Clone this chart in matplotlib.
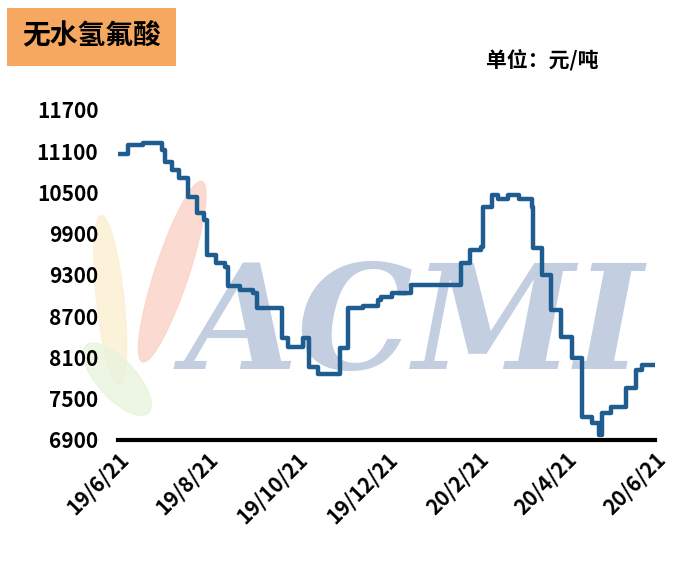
import matplotlib
matplotlib.use("Agg")
import matplotlib.pyplot as plt
import pandas as pd
from matplotlib.patches import Ellipse

plt.rcParams['font.family'] = ['Noto Sans CJK SC', 'DejaVu Sans']

dates = ["2019-06-21","2019-06-28","2019-07-08","2019-07-21","2019-07-23","2019-07-28","2019-08-02",
         "2019-08-08","2019-08-14","2019-08-19","2019-08-21","2019-08-27","2019-09-02","2019-09-04",
         "2019-09-12","2019-09-21","2019-09-24","2019-10-11","2019-10-15","2019-10-25","2019-10-29",
         "2019-11-04","2019-11-19","2019-11-25","2019-12-05","2019-12-15","2019-12-17","2019-12-25",
         "2020-01-07","2020-02-10","2020-02-16","2020-02-23","2020-02-25","2020-03-02","2020-03-06",
         "2020-03-13","2020-03-20","2020-03-29","2020-03-30","2020-04-05","2020-04-11","2020-04-18",
         "2020-04-25","2020-05-02","2020-05-09","2020-05-14","2020-05-16","2020-05-22","2020-06-01",
         "2020-06-08","2020-06-12","2020-06-21"]
values = [11050,11190,11220,11120,10940,10830,10710,10430,10200,10100,9590,9470,9420,9130,
          9080,9040,8820,8380,8250,8380,7960,7850,8240,8820,8850,8940,8970,9040,9150,9470,
          9660,9710,10290,10460,10400,10460,10400,10290,9690,9300,8790,8400,8090,7230,7150,
          6970,7290,7370,7660,7920,7990,7990]
yticks = [6900,7500,8100,8700,9300,9900,10500,11100,11700]
xtick_dates = ["2019-06-21","2019-08-21","2019-10-21","2019-12-21","2020-02-21","2020-04-21","2020-06-21"]
xtick_labels = ["19/6/21","19/8/21","19/10/21","19/12/21","20/2/21","20/4/21","20/6/21"]

x = pd.to_datetime(dates)
fig = plt.figure(figsize=(6.89,5.66), dpi=100)
ax = fig.add_axes([0.171,0.223,0.78,0.583])
ax.set_facecolor("none")

# watermark (inside axes, beneath line)
ax.text(0.60,0.42,"ACMI",fontsize=105,family="DejaVu Serif",style="italic",fontweight="bold",
        color="#c3cfe0",ha="center",va="center",zorder=0,transform=fig.transFigure)
for (cx,cy,w,h,ang,c) in [(0.25,0.52,0.05,0.33,-15,"#fbd3c6"),(0.16,0.47,0.04,0.30,5,"#fbefd0"),
                          (0.17,0.33,0.06,0.15,35,"#e9f3dc")]:
    ax.add_patch(Ellipse((cx,cy),w,h,angle=ang,color=c,alpha=0.8,transform=fig.transFigure,zorder=0,clip_on=False))

ax.step(x, values, where="post", color="#1f5c8f", lw=3.2, zorder=3)
ax.set_ylim(6900,11700)
ax.set_xlim(pd.Timestamp("2019-06-21"), pd.Timestamp("2020-06-21"))
ax.set_yticks(yticks)
ax.set_yticklabels([str(v) for v in yticks], fontsize=15, fontweight="bold")
ax.set_xticks(pd.to_datetime(xtick_dates))
ax.set_xticklabels(xtick_labels, rotation=45, ha="right", rotation_mode="anchor", fontsize=15, fontweight="bold")
ax.tick_params(axis="y", length=0, pad=14)
ax.tick_params(axis="x", length=0, pad=6)
for s in ["top","right","left"]:
    ax.spines[s].set_visible(False)
ax.spines["bottom"].set_linewidth(3)

fig.text(0.032,0.935,"无水氢氟酸",fontsize=20,fontweight="bold",va="center",
         bbox=dict(boxstyle="square,pad=0.55",fc="#f6a860",ec="none"))
fig.text(0.705,0.895,"单位：元/吨",fontsize=15,fontweight="bold",va="center")
fig.savefig("out.png", dpi=100)
